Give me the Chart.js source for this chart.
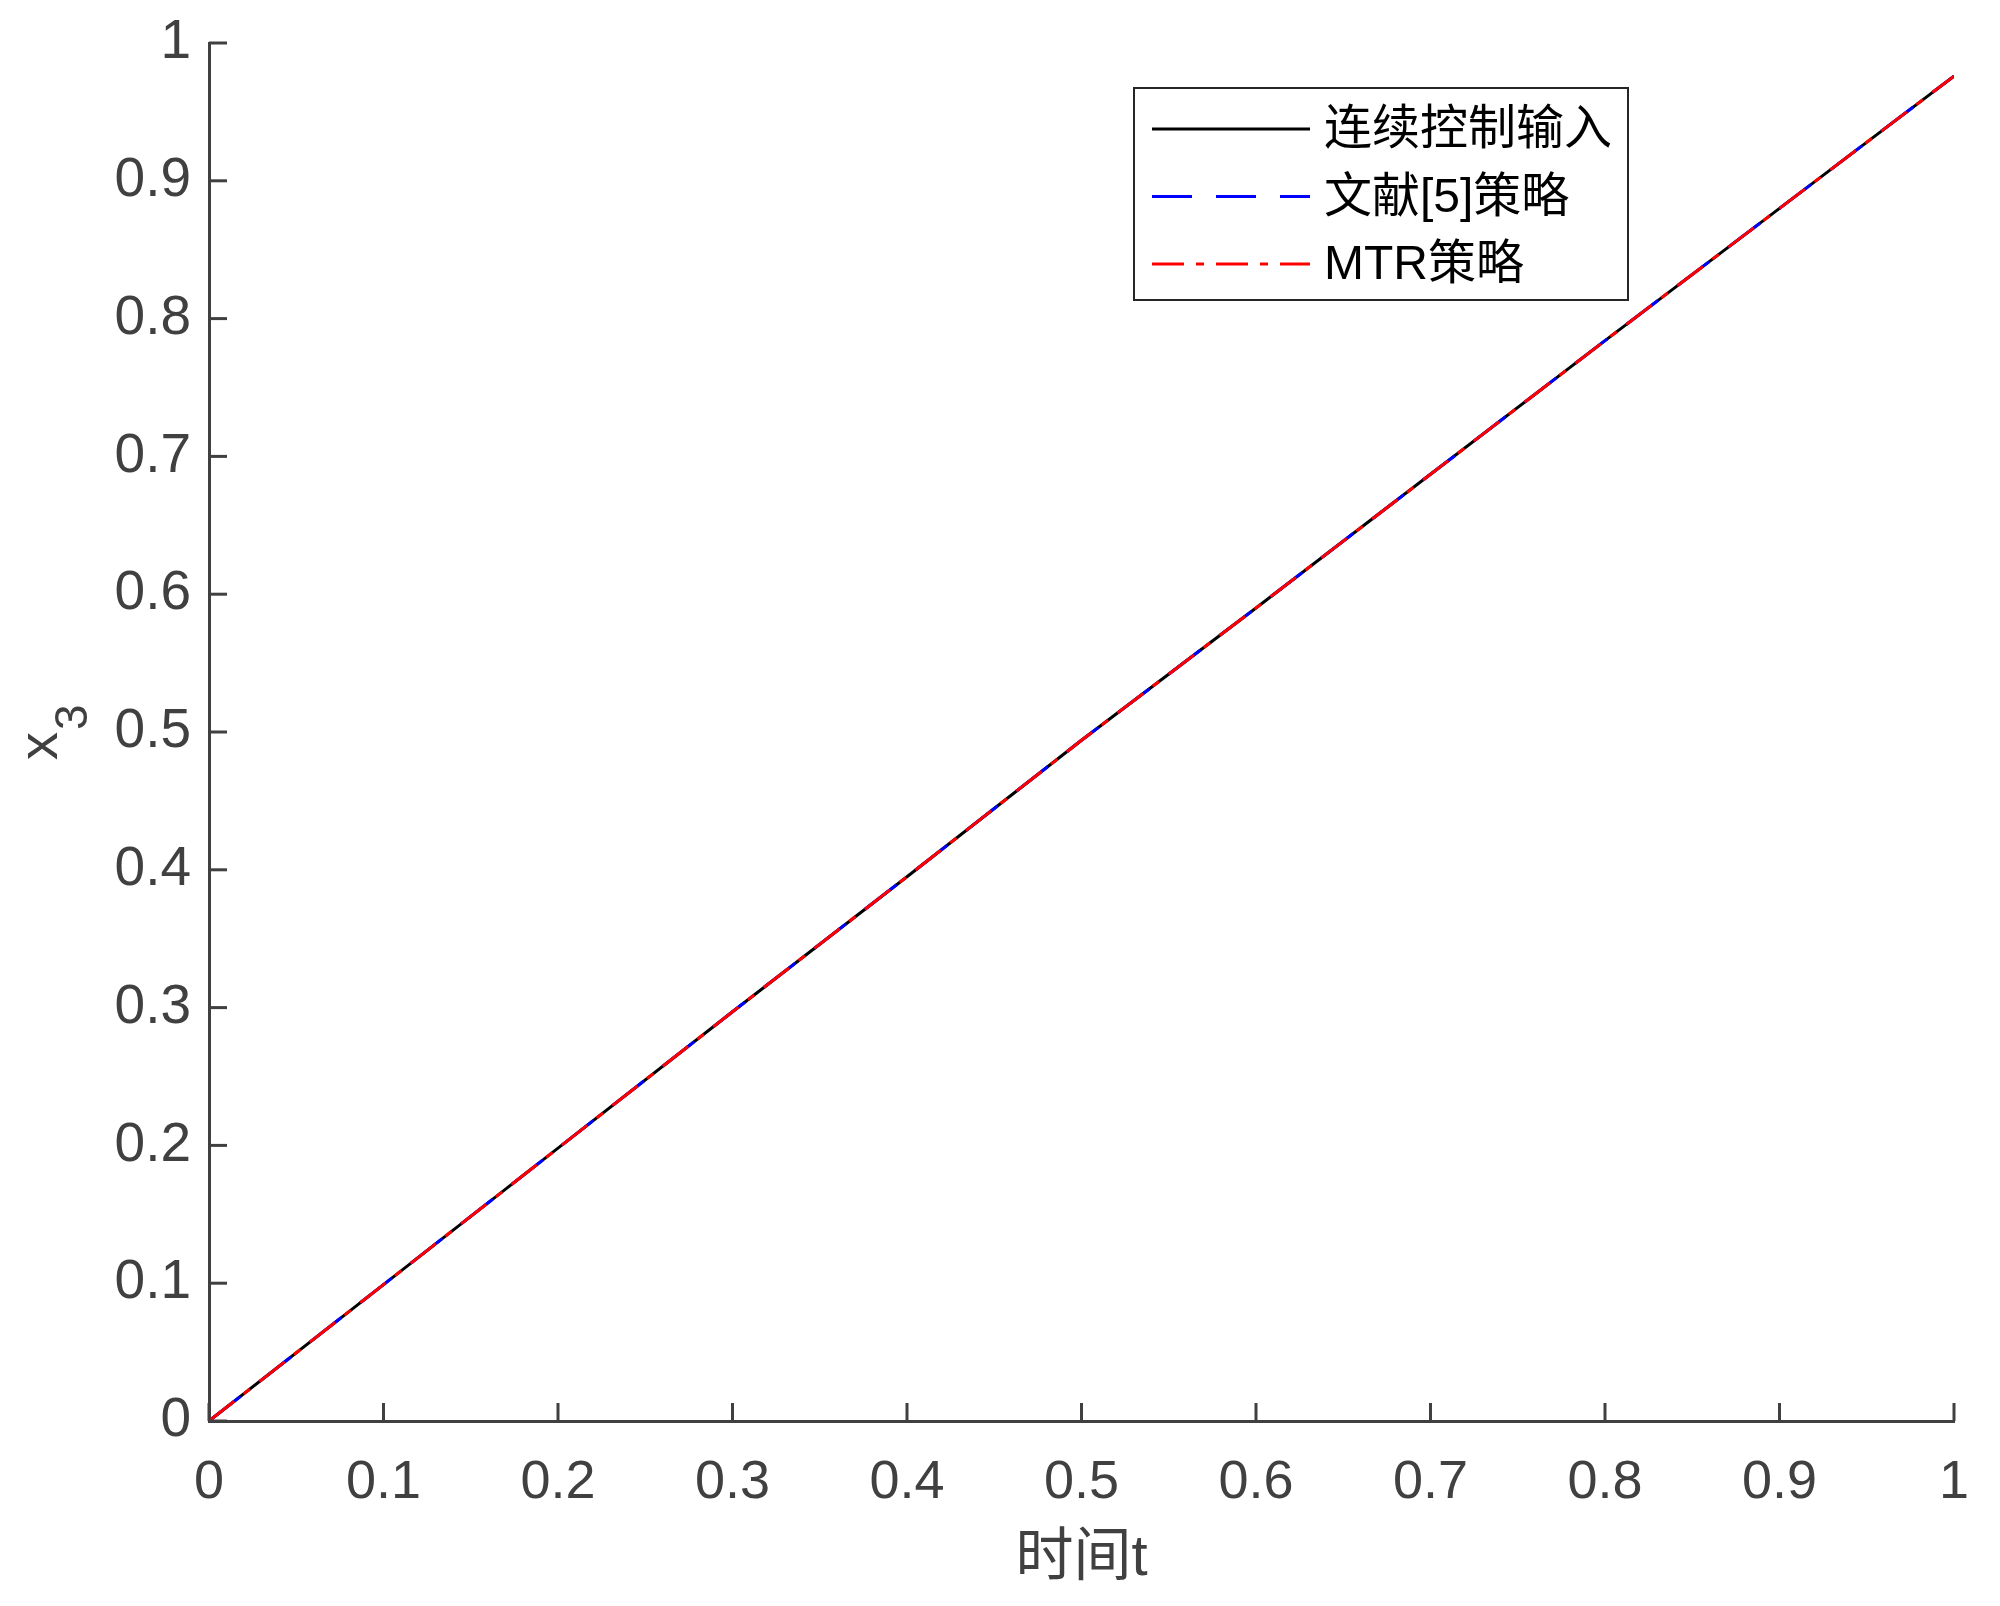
<!DOCTYPE html>
<html>
<head>
<meta charset="utf-8">
<script src="https://cdn.jsdelivr.net/npm/chart.js@4/dist/chart.umd.min.js"></script>
<style>
  html, body { margin: 0; padding: 0; background: #fff; }
  #wrap { width: 2000px; height: 1606px; position: relative; }
</style>
</head>
<body>
<div id="wrap"><canvas id="chart"></canvas></div>
<script>
const timeValues = [0, 0.1, 0.2, 0.3, 0.4, 0.5, 0.6, 0.7, 0.8, 0.9, 1];
const continuousX3 = [0, 0.099, 0.198, 0.297, 0.395, 0.494, 0.590, 0.687, 0.784, 0.880, 0.976];
const ref5X3 = [0, 0.099, 0.198, 0.297, 0.395, 0.494, 0.590, 0.687, 0.784, 0.880, 0.976];
const mtrX3 = [0, 0.099, 0.198, 0.297, 0.395, 0.494, 0.590, 0.687, 0.784, 0.880, 0.976];
const seriesLabels = ['连续控制输入', '文献[5]策略', 'MTR策略'];
const tickValues = [0, 0.1, 0.2, 0.3, 0.4, 0.5, 0.6, 0.7, 0.8, 0.9, 1];

const axisColor = '#404040';
const fontFamily = '"Liberation Sans", Arial, "Noto Sans CJK SC", sans-serif';

const toPoints = (ys) => timeValues.map((t, i) => ({ x: t, y: ys[i] }));

// inward tick marks, matlab style
const innerTicks = {
  id: 'innerTicks',
  afterDraw(chart) {
    const { ctx, chartArea } = chart;
    const xs = chart.scales.x, ys = chart.scales.y;
    ctx.save();
    ctx.strokeStyle = axisColor;
    ctx.lineWidth = 3;
    tickValues.forEach((v) => {
      const px = xs.getPixelForValue(v);
      ctx.beginPath();
      ctx.moveTo(px, chartArea.bottom);
      ctx.lineTo(px, chartArea.bottom - 18);
      ctx.stroke();
      const py = ys.getPixelForValue(v);
      ctx.beginPath();
      ctx.moveTo(chartArea.left, py);
      ctx.lineTo(chartArea.left + 18, py);
      ctx.stroke();
    });
    ctx.restore();
  }
};

// y title with subscript
const yTitle = {
  id: 'yTitle',
  afterDraw(chart) {
    const { ctx, chartArea } = chart;
    const cy = (chartArea.top + chartArea.bottom) / 2;
    ctx.save();
    ctx.translate(57, cy + 28);
    ctx.rotate(-Math.PI / 2);
    ctx.fillStyle = axisColor;
    ctx.textBaseline = 'alphabetic';
    ctx.textAlign = 'left';
    ctx.font = '56px ' + fontFamily;
    ctx.fillText('x', 0, 0);
    const w = ctx.measureText('x').width;
    ctx.font = '46px ' + fontFamily;
    ctx.fillText('3', w + 2, 30);
    ctx.restore();
  }
};

// legend box inside plot area
const boxLegend = {
  id: 'boxLegend',
  afterDraw(chart) {
    const { ctx } = chart;
    const left = 1134, top = 88, width = 494, height = 212;
    ctx.save();
    ctx.fillStyle = '#fff';
    ctx.fillRect(left, top, width, height);
    ctx.strokeStyle = '#262626';
    ctx.lineWidth = 2;
    ctx.strokeRect(left, top, width, height);
    chart.data.datasets.forEach((ds, i) => {
      const y = top + 41 + i * 67.5;
      ctx.strokeStyle = ds.borderColor;
      ctx.lineWidth = 3;
      ctx.setLineDash(ds.borderDash || []);
      ctx.beginPath();
      ctx.moveTo(left + 18, y);
      ctx.lineTo(left + 176, y);
      ctx.stroke();
      ctx.setLineDash([]);
      ctx.fillStyle = '#000';
      ctx.font = '48px ' + fontFamily;
      ctx.textBaseline = 'middle';
      ctx.textAlign = 'left';
      ctx.fillText(ds.label, left + 190, y + 2);
    });
    ctx.restore();
  }
};

new Chart(document.getElementById('chart'), {
  type: 'line',
  data: {
    datasets: [
      { label: seriesLabels[0], data: toPoints(continuousX3), borderColor: '#000000', borderWidth: 3, pointRadius: 0, order: 2 },
      { label: seriesLabels[1], data: toPoints(ref5X3), borderColor: '#0000ff', borderWidth: 3, pointRadius: 0, borderDash: [40, 24], order: 1 },
      { label: seriesLabels[2], data: toPoints(mtrX3), borderColor: '#ff0000', borderWidth: 3, pointRadius: 0, borderDash: [32, 12, 8, 12], order: 0 },
    ],
  },
  options: {
    responsive: true,
    maintainAspectRatio: false,
    animation: false,
    layout: { padding: { top: 43, right: 46, left: 0, bottom: 0 } },
    plugins: { legend: { display: false }, tooltip: { enabled: false } },
    scales: {
      x: {
        type: 'linear',
        min: 0, max: 1,
        afterFit: (s) => { s.height = 185; s.paddingLeft = 0; s.paddingRight = 0; },
        afterBuildTicks: (s) => { s.ticks = tickValues.map((v) => ({ value: v })); },
        grid: { drawOnChartArea: false, drawTicks: false },
        border: { color: axisColor, width: 3 },
        ticks: {
          color: axisColor, padding: 30,
          font: { family: fontFamily, size: 54 },
          callback: (v) => String(v),
        },
        title: {
          display: true, text: '时间t', color: axisColor,
          font: { family: fontFamily, size: 58 },
          padding: { top: 0, bottom: 12 },
        },
      },
      y: {
        type: 'linear',
        min: 0, max: 1,
        afterFit: (s) => { s.width = 209; s.paddingTop = 0; s.paddingBottom = 0; },
        afterBuildTicks: (s) => { s.ticks = tickValues.map((v) => ({ value: v })); },
        grid: { drawOnChartArea: false, drawTicks: false },
        border: { color: axisColor, width: 3 },
        ticks: {
          color: axisColor, padding: 18,
          font: { family: fontFamily, size: 55 },
          callback: (v) => String(v),
        },
      },
    },
  },
  plugins: [innerTicks, yTitle, boxLegend],
});
</script>
</body>
</html>
